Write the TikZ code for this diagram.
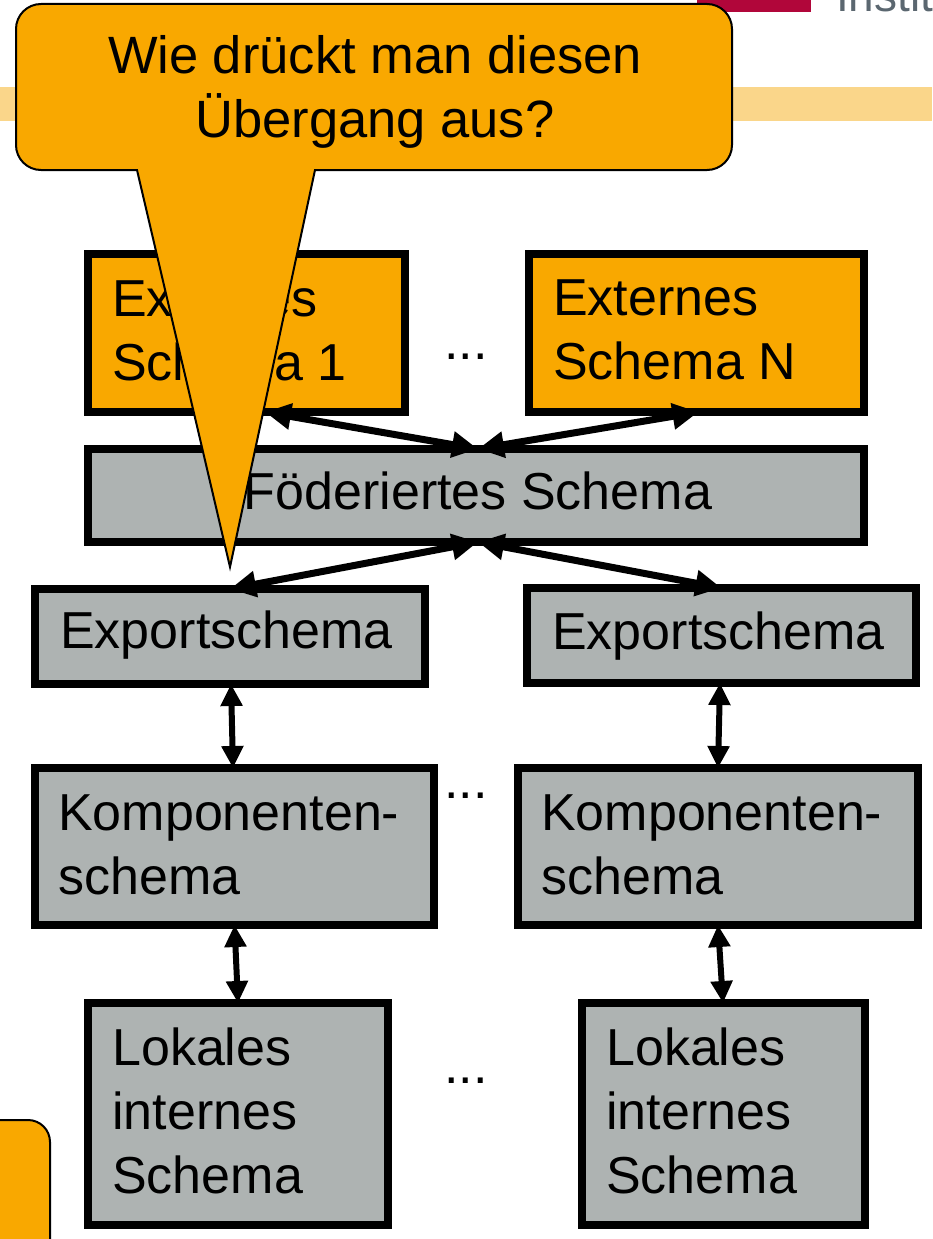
\documentclass[tikz,border=0pt]{standalone}
\usepackage{fontspec}
\setmainfont{Liberation Sans}
\usetikzlibrary{arrows.meta}
\definecolor{calloutorange}{RGB}{249,168,0}
\definecolor{boxgray}{RGB}{174,179,178}
\definecolor{stripeyellow}{RGB}{250,214,138}
\definecolor{barred}{RGB}{177,6,58}
\definecolor{logogray}{RGB}{91,103,112}
\tikzset{
  schemabox/.style={draw=black, line width=8pt, inner sep=0pt, outer sep=0pt},
  orangebox/.style={schemabox, fill=calloutorange},
  graybox/.style={schemabox, fill=boxgray},
  boxtext/.style={font=\fontsize{52}{64}\selectfont, align=left, inner sep=0pt, anchor=base west},
  dotstext/.style={font=\fontsize{52}{64}\selectfont, inner sep=0pt, anchor=base west},
  bigarrow/.style={line width=7pt, {Triangle[length=26pt,width=25pt]}-{Triangle[length=26pt,width=25pt]}},
  smallarrow/.style={line width=6pt, {Triangle[length=22pt,width=21pt]}-{Triangle[length=22pt,width=21pt]}},
  callout/.style={fill=calloutorange, draw=black, line width=2pt, line join=miter}
}
\begin{document}
\begin{tikzpicture}[x=1pt, y=-1pt]
\useasboundingbox (0,0) rectangle (932,1239);
% background stripe and logo remains
\fill[stripeyellow] (0,87) rectangle (932,121);
\begin{scope}
\clip (0,0) rectangle (932,1239);
\fill[barred] (697,-10) rectangle (811,12);
\node[font=\fontsize{46}{50}\selectfont, text=logogray, inner sep=0pt, anchor=base west] (inst) at (836,12) {Institut};
\end{scope}
% boxes
\node[orangebox, minimum width=317pt, minimum height=158pt] (e1) at (246.5,333) {};
\node[orangebox, minimum width=335pt, minimum height=158pt] (eN) at (696.5,333) {};
\node[graybox, minimum width=776pt, minimum height=93pt] (fed) at (476,495.5) {};
\node[graybox, minimum width=390pt, minimum height=95pt] (xL) at (230,636.5) {};
\node[graybox, minimum width=389pt, minimum height=95pt] (xR) at (721.5,635.5) {};
\node[graybox, minimum width=399pt, minimum height=157pt] (kL) at (234.5,846.5) {};
\node[graybox, minimum width=400pt, minimum height=157pt] (kR) at (718,846.5) {};
\node[graybox, minimum width=300pt, minimum height=222pt] (lL) at (238,1114) {};
\node[graybox, minimum width=283pt, minimum height=222pt] (lR) at (723.5,1114) {};
% texts (anchor base = baseline of the last line)
\node[boxtext] (e1t) at (112,380) {Externes\\Schema 1};
\node[boxtext] (eNt) at (553,379) {Externes\\Schema N};
\node[boxtext, anchor=base] (fedt) at (478,509) {Föderiertes Schema};
\node[boxtext] (xLt) at (60,648) {Exportschema};
\node[boxtext] (xRt) at (552,649) {Exportschema};
\node[boxtext] (kLt) at (58,894) {Komponenten-\\schema};
\node[boxtext] (kRt) at (541,894) {Komponenten-\\schema};
\node[boxtext] (lLt) at (112,1193) {Lokales\\internes\\Schema};
\node[boxtext] (lRt) at (606,1193) {Lokales\\internes\\Schema};
% dots
\node[dotstext] (d1) at (444,359) {...};
\node[dotstext] (d2) at (444,798) {...};
\node[dotstext] (d3) at (444,1083) {...};
% arrows
\draw[bigarrow] ([xshift=18.5pt]e1.south) -- ([xshift=2pt]fed.north);
\draw[bigarrow] ([xshift=2pt]eN.south) -- ([xshift=2pt]fed.north);
\draw[bigarrow] ([xshift=2pt]fed.south) -- (xL.north);
\draw[bigarrow] ([xshift=2pt]fed.south) -- (xR.north);
\draw[smallarrow] ([xshift=1pt]xL.south) -- ([xshift=-1.5pt]kL.north);
\draw[smallarrow] ([xshift=-1.5pt]xR.south) -- (kR.north);
\draw[smallarrow] (kL.south) -- (lL.north);
\draw[smallarrow] (kR.south) -- ([xshift=-0.5pt]lR.north);
% callout
\path[callout] (400,4) [rounded corners=25pt] -- (732,4) -- (732,170) [sharp corners] -- (315,170) -- (230,567) -- (137,170) [rounded corners=25pt] -- (16,170) -- (16,4) -- cycle;
\node[font=\fontsize{52.5}{64}\selectfont, align=center, inner sep=0pt, anchor=base] (q) at (375,137) {Wie drückt man diesen\\Übergang aus?};
% bottom-left orange shape
\path[callout] (-40,1250) -- (-40,1120) [rounded corners=22pt] -- (50,1120) -- (50,1250);
\end{tikzpicture}
\end{document}
